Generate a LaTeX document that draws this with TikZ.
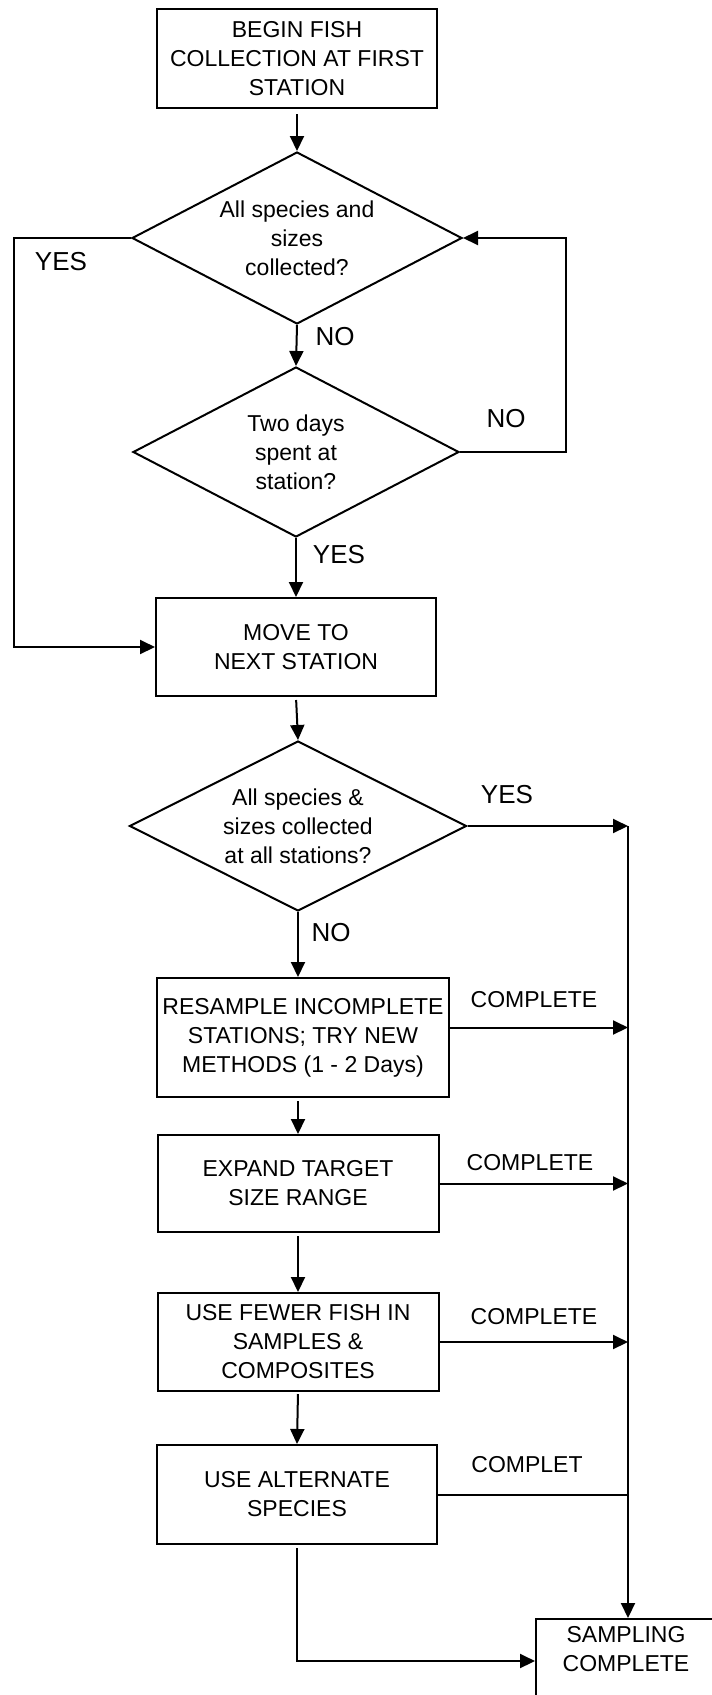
\documentclass[tikz,border=0pt]{standalone}
\usepackage{fontspec}
\setmainfont{Liberation Sans}
\usetikzlibrary{shapes.geometric,arrows.meta}

\begin{document}
\begin{tikzpicture}[x=1pt,y=-1pt,
  line width=2pt,
  every node/.style={font=\fontsize{23}{29}\selectfont, align=center, inner sep=0pt},
  box/.style={draw, rectangle, minimum width=280pt, minimum height=99pt},
  decision/.style={draw, diamond, minimum width=330pt, minimum height=172pt, aspect=1.9},
  flow/.style={-{Triangle[length=15pt,width=14pt]}},
  answer/.style={font=\fontsize{26}{30}\selectfont},
  tag/.style={font=\fontsize{23}{28}\selectfont}
]
\clip (0,0) rectangle (712,1695);

% main column
\node[box] (begin) at (297,58.5) {BEGIN FISH\\COLLECTION AT FIRST\\STATION};
\node[decision] (q1) at (297,238) {All species and\\sizes\\collected?};
\node[decision, minimum width=326pt, minimum height=170pt] (q2) at (296,452) {Two days\\spent at\\station?};
\node[box, minimum height=98pt] (move) at (296,647) {MOVE TO\\NEXT STATION};
\node[decision, minimum width=337pt, minimum height=170pt] (q3) at (298,826) {All species \&\\sizes collected\\at all stations?};
\node[box, minimum width=292pt, minimum height=119pt] (resample) at (303,1037.5) {RESAMPLE INCOMPLETE\\STATIONS; TRY NEW\\METHODS (1 - 2 Days)};
\node[box, minimum width=281pt, minimum height=97pt] (expand) at (298,1183.5) {EXPAND TARGET\\SIZE RANGE};
\node[box, minimum width=281pt, minimum height=98pt] (fewer) at (298,1342) {USE FEWER FISH IN\\SAMPLES \&\\COMPOSITES};
\node[box] (alternate) at (297,1494.5) {USE ALTERNATE\\SPECIES};

% end box, running off the lower right corner
\node[draw, rectangle, minimum width=184pt, minimum height=84pt] (done) at (628,1661) {};
\node (donetext) at (626,1649) {SAMPLING\\COMPLETE};

% guide columns for the loops
\coordinate (lx) at (14,0);
\coordinate (rx) at (566,0);

% vertical flow
\draw[flow, shorten <=5pt] (begin.south) -- (q1.north);
\draw[flow] (q1.south) -- (q2.north);
\draw[flow] (q2.south) -- (move.north);
\draw[flow, shorten <=3pt] (move.south) -- (q3.north);
\draw[flow] (q3.south) -- (q3.south |- resample.north);
\draw[flow, shorten <=3pt] (expand.north |- resample.south) -- (expand.north);
\draw[flow, shorten <=3pt] (expand.south) -- (fewer.north);
\draw[flow, shorten <=2pt] (fewer.south) -- (alternate.north);

% loops of the first two decisions
\draw[flow] (q1.west) -- (q1.west -| lx) -- (move.west -| lx) -- (move.west);
\draw[flow] (q2.east) -- (q2.east -| rx) -- (q1.east -| rx) -- (q1.east);

% exits to the right trunk
\draw[flow] (q3.east) -- (q3.east -| done.north);
\draw[flow] (q3.east -| done.north) -- (done.north);
\draw[flow] ([yshift=10pt]resample.east) -- ([yshift=10pt]resample.east -| done.north);
\draw[flow] (expand.east) -- (expand.east -| done.north);
\draw[flow] (fewer.east) -- (fewer.east -| done.north);
\draw (alternate.east) -- (alternate.east -| done.north);
\draw[flow, shorten <=3pt] (alternate.south) |- (done.west);

% branch labels
\node[answer] (yes1) at (61,262) {YES};
\node[answer] (no1) at (335,337) {NO};
\node[answer] (no2) at (506,419) {NO};
\node[answer] (yes2) at (339,555) {YES};
\node[answer] (yes3) at (507,795) {YES};
\node[answer] (no3) at (331,933) {NO};
\node[tag] (c1) at (534,1000) {COMPLETE};
\node[tag] (c2) at (530,1163) {COMPLETE};
\node[tag] (c3) at (534,1317) {COMPLETE};
\node[tag] (c4) at (527,1465) {COMPLET};
\end{tikzpicture}
\end{document}
